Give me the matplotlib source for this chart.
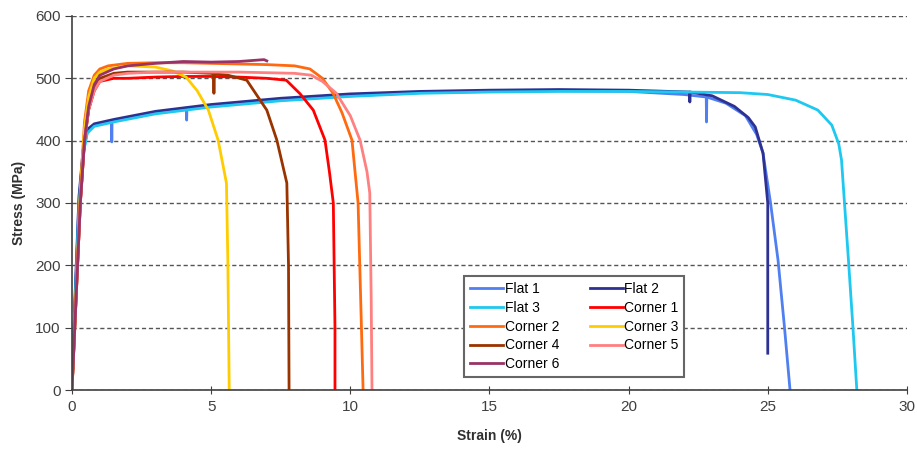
import matplotlib
matplotlib.use("Agg")
import matplotlib.pyplot as plt

plt.rcParams['font.family'] = ['Liberation Sans', 'DejaVu Sans']

# strain (%) / stress (MPa)
flat1_strain = [0, 0.1, 0.25, 0.4, 0.55, 0.8, 1.42, 1.43, 1.44, 3, 4.11, 4.12, 4.13, 5, 7.5, 10,
                12.5, 15, 17.5, 20, 22, 22.79, 22.8, 22.81, 23.5, 24.2, 24.6, 24.83, 25.1, 25.37, 25.6, 25.8]
flat1_stress = [0, 130, 300, 380, 415, 425, 431, 398, 431, 445, 452, 433, 452, 456, 465, 472,
                477, 479, 480, 479, 474, 470, 430, 470, 460, 440, 410, 380, 300, 208, 101, 0]

flat2_strain = [0, 0.1, 0.25, 0.4, 0.55, 0.8, 1.5, 3, 5, 7.5, 10, 12.5, 15, 17.5, 20,
                22.19, 22.2, 22.21, 23, 23.8, 24.3, 24.55, 24.83, 25.0, 25.0]
flat2_stress = [0, 140, 310, 385, 418, 427, 434, 447, 458, 468, 475, 479, 481, 482, 481,
                478, 462, 478, 472, 455, 437, 422, 380, 300, 59]

flat3_strain = [0, 0.1, 0.25, 0.4, 0.55, 0.8, 1.5, 3, 5, 7.5, 10, 12.5, 15, 17.5, 20, 22, 24,
                25, 26, 26.8, 27.3, 27.55, 27.65, 27.9, 28.06, 28.2]
flat3_stress = [0, 125, 295, 378, 412, 423, 430, 443, 454, 464, 471, 476, 478, 479, 479, 478, 477,
                474, 465, 449, 425, 395, 369, 208, 101, 0]

c1_strain = [0, 0.15, 0.3, 0.45, 0.6, 0.8, 1.0, 1.5, 2, 3, 4, 5, 6, 7, 7.7, 8.2, 8.67, 9.09, 9.25, 9.39, 9.45, 9.45]
c1_stress = [0, 150, 300, 400, 450, 480, 495, 500, 500, 502, 503, 503, 502, 500, 497, 475, 449, 401, 350, 300, 100, 0]

c2_strain = [0, 0.15, 0.3, 0.45, 0.6, 0.8, 1.0, 1.3, 2, 3, 4, 5, 6, 7, 8, 8.55, 9.0, 9.38, 9.7,
             10.06, 10.28, 10.4, 10.46]
c2_stress = [0, 160, 320, 430, 480, 505, 515, 520, 524, 525, 525, 524, 523, 522, 520, 515, 500, 476, 445,
             401, 300, 101, 0]

c3_strain = [0, 0.15, 0.3, 0.45, 0.6, 0.8, 1.0, 1.3, 2, 3, 3.6, 4.1, 4.5, 4.9, 5.25, 5.55, 5.6, 5.65]
c3_stress = [0, 155, 310, 420, 470, 500, 510, 515, 520, 518, 512, 502, 480, 449, 401, 332, 208, 0]

c4_strain = [0, 0.15, 0.3, 0.45, 0.6, 0.8, 1.0, 1.5, 2, 3, 4, 5, 5.09, 5.1, 5.11, 5.6, 6.28, 7.0,
             7.36, 7.72, 7.78, 7.8]
c4_stress = [0, 150, 300, 400, 450, 485, 500, 508, 510, 510, 510, 508, 507, 476, 507, 505, 497, 449,
             401, 332, 200, 0]

c5_strain = [0, 0.15, 0.3, 0.45, 0.6, 0.8, 1.0, 1.5, 2, 3, 4, 5, 6, 7, 8, 8.6, 9.0, 9.5, 10.0,
             10.35, 10.6, 10.7, 10.75, 10.78]
c5_stress = [0, 150, 300, 400, 450, 480, 495, 505, 508, 510, 510, 510, 510, 509, 508, 505, 495, 476, 440,
             401, 350, 316, 150, 0]

c6_strain = [0, 0.15, 0.3, 0.45, 0.6, 0.8, 1.0, 1.5, 2, 3, 4, 5, 6, 6.9, 7.0]
c6_stress = [0, 150, 300, 400, 455, 490, 505, 515, 520, 524, 527, 526, 527, 530, 528]

labels = ['Flat 1', 'Flat 2', 'Flat 3', 'Corner 1', 'Corner 2', 'Corner 3',
          'Corner 4', 'Corner 5', 'Corner 6']
colors = ['#4F7FF0', '#2E3192', '#1EC8F0', '#FF0000', '#FF6A10', '#FFCC00',
          '#993300', '#FF8080', '#993366']
strains = [flat1_strain, flat2_strain, flat3_strain, c1_strain, c2_strain, c3_strain,
           c4_strain, c5_strain, c6_strain]
stresses = [flat1_stress, flat2_stress, flat3_stress, c1_stress, c2_stress, c3_stress,
            c4_stress, c5_stress, c6_stress]

fig = plt.figure(figsize=(9.17, 4.49), dpi=100)
ax = fig.add_axes([0.0785, 0.1314, 0.9105, 0.833])

handles = []
for x, y, c, lab in zip(strains, stresses, colors, labels):
    h, = ax.plot(x, y, color=c, lw=2, label=lab, solid_joinstyle='round')
    handles.append(h)

ax.set_xlim(0, 30)
ax.set_ylim(0, 600)
ax.set_xticks(range(0, 31, 5))
ax.set_yticks(range(0, 601, 100))

ax.yaxis.grid(True, color='#555555', linestyle=(0, (3, 2)), linewidth=1)
ax.set_axisbelow(True)
for s in ['top', 'right']:
    ax.spines[s].set_visible(False)
for s in ['left', 'bottom']:
    ax.spines[s].set_color('#404040')
    ax.spines[s].set_linewidth(1.2)

ax.tick_params(axis='x', direction='inout', length=6, colors='#404040', labelsize=11, pad=4)
ax.tick_params(axis='y', direction='out', length=5, colors='#404040', labelsize=11, pad=3)

ax.set_xlabel('Strain (%)', fontsize=10, fontweight='bold', color='#303030', labelpad=11)
ax.set_ylabel('Stress (MPa)', fontsize=10, fontweight='bold', color='#303030', labelpad=7)

# legend fills row by row in the reference
order = [0, 2, 4, 6, 8, 1, 3, 5, 7]
leg = ax.legend([handles[i] for i in order], [labels[i] for i in order],
                loc='lower left', bbox_to_anchor=(0.47, 0.035), ncol=2, fontsize=10,
                handlelength=2.4, handletextpad=0.1, columnspacing=2.2, labelspacing=0.35,
                fancybox=False, framealpha=1, borderpad=0.4, borderaxespad=0)
leg.get_frame().set_edgecolor('#666666')
leg.get_frame().set_linewidth(1.5)

fig.savefig('out.png', dpi=100)
